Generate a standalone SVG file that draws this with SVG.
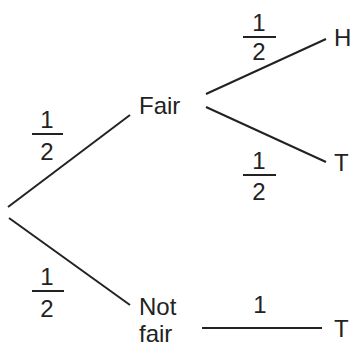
<svg xmlns="http://www.w3.org/2000/svg" width="353" height="355" viewBox="0 0 353 355">
<style>
.t{font-family:"Liberation Sans",Arial,sans-serif;font-size:24px;fill:#222}
.d{font-family:"Liberation Sans",Arial,sans-serif;font-size:24px;fill:#222;text-anchor:middle}
.l{stroke:#222;stroke-width:2;fill:none}
</style>
<rect width="353" height="355" fill="#fff"/>
<g id="connectors">
<line class="l" x1="8" y1="207" x2="130" y2="115"/>
<line class="l" x1="9" y1="218" x2="130" y2="305"/>
<line class="l" x1="206" y1="94" x2="326" y2="39"/>
<line class="l" x1="206" y1="107" x2="326" y2="162"/>
<line class="l" x1="202" y1="328" x2="322" y2="328"/>
</g>
<g id="frac1"><text class="d" x="47" y="128">1</text><line class="l" x1="32" y1="134" x2="63" y2="134"/><text class="d" x="47" y="160">2</text></g>
<g id="frac2"><text class="d" x="47" y="285">1</text><line class="l" x1="32" y1="291" x2="64" y2="291"/><text class="d" x="47" y="317">2</text></g>
<g id="frac3"><text class="d" x="259" y="31">1</text><line class="l" x1="243" y1="37" x2="276" y2="37"/><text class="d" x="259" y="60">2</text></g>
<g id="frac4"><text class="d" x="259" y="169">1</text><line class="l" x1="243" y1="175" x2="276" y2="175"/><text class="d" x="259" y="200">2</text></g>
<g id="frac5"><text class="d" x="260" y="313">1</text></g>
<g id="fair"><text class="t" x="139" y="114">Fair</text></g>
<g id="notfair"><text class="t" x="139" y="315">Not</text><text class="t" x="139" y="342">fair</text></g>
<g id="H"><text class="t" x="334" y="46">H</text></g>
<g id="T1"><text class="t" x="334" y="171">T</text></g>
<g id="T2"><text class="t" x="334" y="337">T</text></g>
</svg>
